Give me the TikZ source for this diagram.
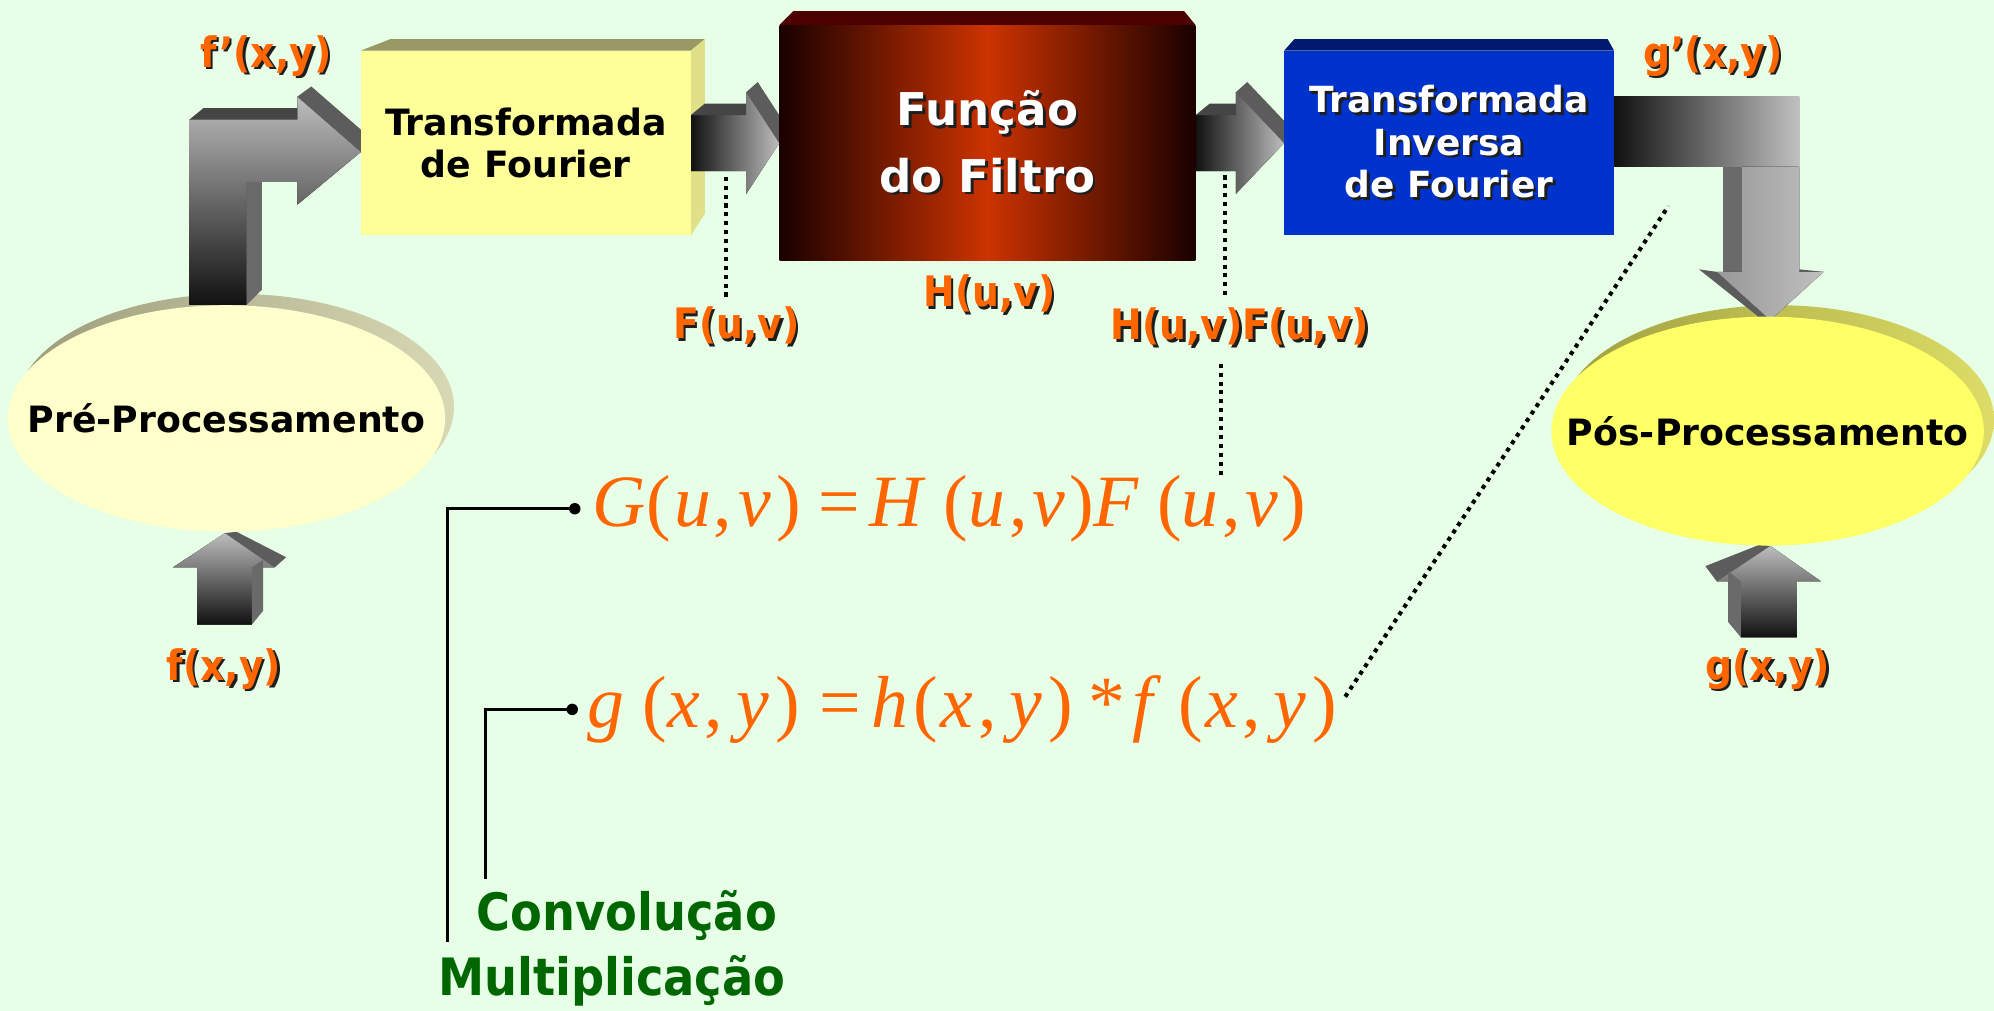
\documentclass[tikz,border=0pt]{standalone}
\usepackage{fontspec}
\setmainfont{DejaVu Sans}
\newfontfamily\condfont{DejaVu Sans Condensed}
\newfontfamily\eqfont{Liberation Serif}
\usepackage{xcolor}
\definecolor{cBg}{HTML}{E6FFE6}
\definecolor{cOrange}{HTML}{FF6600}
\definecolor{cGreen}{HTML}{006600}
\definecolor{cShadow}{HTML}{1E1E1E}
\definecolor{cPreFill}{HTML}{FFFFCC}
\definecolor{cPreRimL}{HTML}{9C9C7C}
\definecolor{cPreRimR}{HTML}{D8D8B4}
\definecolor{cPosFill}{HTML}{FFFF66}
\definecolor{cPosRimL}{HTML}{A0A040}
\definecolor{cPosRimR}{HTML}{DCDC66}
\definecolor{cFTFront}{HTML}{FFFF99}
\definecolor{cFTTop}{HTML}{999966}
\definecolor{cFTSide}{HTML}{E0E088}
\definecolor{cFiltEdge}{HTML}{1A0000}
\definecolor{cFiltMid}{HTML}{CC3300}
\definecolor{cFiltTop}{HTML}{4D0000}
\definecolor{cInvFront}{HTML}{0033CC}
\definecolor{cInvTop}{HTML}{001A70}
\definecolor{cArrLight}{HTML}{BDBDBD}
\definecolor{cArrDark}{HTML}{111111}
\definecolor{cArrTop}{HTML}{454545}
\definecolor{cArrFace}{HTML}{5C5C5C}
\definecolor{cArrSide}{HTML}{6A6A6A}
\usepackage{tikz}
\usetikzlibrary{positioning,calc,shapes.geometric}
\pgfdeclarelayer{bg}
\pgfdeclarelayer{arw}
\pgfsetlayers{bg,arw,main}
\newcommand{\shtxt}[2]{\leavevmode\rlap{\hspace{2pt}\raisebox{-2pt}{\textcolor{#1}{#2}}}#2}
\newcommand{\ei}[1]{\textit{#1}}
% horizontal block arrow: start, tip, head length
\newcommand{\blockarrowH}[3]{%
  \fill[left color=cArrDark,right color=cArrLight]
    ($(#1)+(0,-22)$) -- ($(#2)+(-#3,-22)$) -- ($(#2)+(-#3,-40)$) -- (#2)
    -- ($(#2)+(-#3,40)$) -- ($(#2)+(-#3,22)$) -- ($(#1)+(0,22)$) -- cycle;
  \fill[face-top] ($(#1)+(0,-22)$) -- ++(11,-9) -- ($(#2)+(-#3,-31)$)
    -- ($(#2)+(-#3,-22)$) -- cycle;
  \fill[face-head] ($(#2)+(-#3,-40)$) -- ++(9,-8) -- ($(#2)+(9,-8)$) -- (#2) -- cycle;
}
\tikzset{
  box-3d/.style={inner sep=0pt,align=center,font=\bfseries\fontsize{28.5}{33}\selectfont},
  box-ft/.style={box-3d,fill=cFTFront,minimum width=259pt,minimum height=145pt},
  box-filt/.style={box-3d,left color=cFiltEdge,right color=cFiltEdge,middle color=cFiltMid,
    minimum width=327pt,minimum height=185pt,text=white,
    font=\bfseries\fontsize{35.5}{52}\selectfont},
  box-inv/.style={box-3d,fill=cInvFront,minimum width=259pt,minimum height=145pt,
    text=white,font=\bfseries\fontsize{28.3}{33.5}\selectfont},
  ell-proc/.style={ellipse,inner sep=0pt,minimum width=344pt,minimum height=178pt,
    font=\bfseries\fontsize{28.5}{32}\selectfont},
  ell-rim/.style={ellipse,inner sep=0pt,minimum width=344pt,minimum height=178pt},
  lbl-sig/.style={inner sep=0pt,text=cOrange,font=\condfont\bfseries\fontsize{33}{36}\selectfont},
  lbl-op/.style={inner sep=0pt,text=cGreen,font=\condfont\bfseries\fontsize{40.5}{44}\selectfont},
  eq-text/.style={inner sep=0pt,text=cOrange,font=\eqfont\fontsize{58}{62}\selectfont,
    anchor=base west},
  face-top/.style={fill=cArrTop},
  face-head/.style={fill=cArrFace},
  face-side/.style={fill=cArrSide},
  dot-line/.style={line width=3.2pt,dash pattern=on 3.2pt off 3.8pt,draw=black},
  bracket/.style={line width=2.6pt,draw=black},
}

\begin{document}
\begin{tikzpicture}[x=1pt,y=-1pt]
  \begin{pgfonlayer}{bg}
    \fill[cBg] (0,0) rectangle (1568,795);
  \end{pgfonlayer}
  \useasboundingbox (0,0) rectangle (1568,795);

  % blocks
  \node[box-ft] (ft) at (413.5,112.5) {Transformada\\de Fourier};
  \node[box-filt] (filt) at (776.5,112.5)
    {\shtxt{cShadow}{Função}\\\shtxt{cShadow}{do Filtro}};
  \node[box-inv] (inv) at (1139.5,112.5)
    {\shtxt{cShadow}{Transformada}\\\shtxt{cShadow}{Inversa}\\\shtxt{cShadow}{de Fourier}};
  \node[ell-proc,fill=cPreFill] (pre) at (178,329) {\makebox[0pt]{Pré-Processamento}};
  \node[ell-proc,fill=cPosFill,minimum width=340pt,minimum height=180pt] (pos) at (1390,339)
    {\makebox[0pt]{Pós-Processamento}};

  % signal labels
  \node[lbl-sig] (fplab) at (209,45) {\shtxt{cShadow}{f’(x,y)}};
  \node[lbl-sig] (flab) at (579,257) {\shtxt{cShadow}{F(u,v)}};
  \node[lbl-sig] (hlab) at (778,232) {\shtxt{cShadow}{H(u,v)}};
  \node[lbl-sig] (hflab) at (975,258) {\shtxt{cShadow}{H(u,v)F(u,v)}};
  \node[lbl-sig] (gplab) at (1347,45) {\shtxt{cShadow}{g’(x,y)}};
  \node[lbl-sig] (fxy) at (176,527) {\shtxt{cShadow}{f(x,y)}};
  \node[lbl-sig] (gxy) at (1390,527) {\shtxt{cShadow}{g(x,y)}};

  % equations
  \node[eq-text] (eqG) at (466,414)
    {\ei{G}(\hspace{3pt}\ei{u}\hspace{2pt},\hspace{5pt}\ei{v}\hspace{4pt})\hspace{14pt}=\hspace{7pt}\ei{H}\hspace{14pt}(\ei{u}\hspace{3pt},\hspace{4pt}\ei{v}\hspace{3pt})\ei{F}\hspace{14pt}(\ei{u}\hspace{3pt},\hspace{4pt}\ei{v}\hspace{2pt})};
  \node[eq-text] (eqg) at (462,572)
    {\ei{g}\hspace{14pt}(\ei{x}\hspace{4pt},\hspace{10pt}\ei{y}\hspace{5pt})\hspace{16pt}=\hspace{8pt}\ei{h}\hspace{4pt}(\hspace{2pt}\ei{x}\hspace{4pt},\hspace{10pt}\ei{y}\hspace{5pt})\hspace{12pt}*\hspace{5pt}\ei{f}\hspace{14pt}(\hspace{2pt}\ei{x}\hspace{3pt},\hspace{10pt}\ei{y}\hspace{5pt})};
  \node[lbl-op] (conv) at (493,720) {Convolução};
  \node[lbl-op] (mult) at (481,771) {Multiplicação};

  % 3d faces and rims
  \begin{pgfonlayer}{bg}
    \node[ell-rim,left color=cPreRimL,right color=cPreRimR] at ($(pre)+(7,-9)$) {};
    \node[ell-rim,left color=cPosRimL,right color=cPosRimR,minimum width=340pt,
      minimum height=180pt] at ($(pos)+(8,-9)$) {};
    \fill[cFTTop] (ft.north west) -- ++(23,-9) -- ($(ft.north east)+(11,-9)$)
      -- (ft.north east) -- cycle;
    \fill[cFTSide] (ft.north east) -- ++(11,-9) -- ($(ft.south east)+(11,-17)$)
      -- (ft.south east) -- cycle;
    \fill[cFiltTop] (filt.north west) -- ++(11,-11) -- ($(filt.north east)+(-9,-11)$)
      -- (filt.north east) -- cycle;
    \fill[cInvTop] (inv.north west) -- ++(8,-9) -- ($(inv.north east)+(-5,-9)$)
      -- (inv.north east) -- cycle;
  \end{pgfonlayer}

  % block arrows
  \begin{pgfonlayer}{arw}
    \coordinate (aS) at ($(pre.north)+(-29,0)$);
    \coordinate (aT) at ($(ft.west)+(0,7)$);
    \coordinate (aK) at (aS |- aT);
    \fill[top color=cArrLight,bottom color=cArrDark]
      (aS) -- ($(aK)+(0,-25.5)$) -- ($(aT)+(-50,-25.5)$) -- ($(aT)+(-50,-43.5)$)
      -- (aT) -- ($(aT)+(-50,41.5)$) -- ($(aT)+(-50,23.5)$) -- ($(aK)+(45,23.5)$)
      -- ($(aS)+(45,0)$) -- cycle;
    \fill[face-top] ($(aK)+(0,-25.5)$) -- ++(11,-9) -- ($(aT)+(-50,-34.5)$)
      -- ($(aT)+(-50,-25.5)$) -- cycle;
    \fill[face-head] ($(aT)+(-50,-43.5)$) -- ++(11,-8) -- ($(aT)+(11,-8)$) -- (aT) -- cycle;
    \fill[face-side] ($(aK)+(45,23.5)$) -- ++(12,0) -- ($(aS)+(57,-12)$)
      -- ($(aS)+(45,0)$) -- cycle;

    \blockarrowH{ft.east}{filt.west}{26}
    \blockarrowH{filt.east}{inv.west}{38}

    \coordinate (dS) at ($(inv.east)+(0,-9)$);
    \coordinate (dT) at ($(pos.north)+(2,3)$);
    \coordinate (dK) at (dS -| dT);
    \fill[left color=cArrDark,right color=cArrLight!95!white]
      ($(dS)+(0,-27.5)$) -- ($(dK)+(23,-27.5)$) -- ($(dK)+(23,27.5)$)
      -- ($(dS)+(0,27.5)$) -- cycle;
    \fill[face-side] ($(dK)+(-37,27.5)$) -- ($(dK)+(-22,27.5)$) -- ($(dT)+(-22,-38)$)
      -- ($(dT)+(-37,-38)$) -- cycle;
    \fill[left color=cArrLight!80!black,right color=cArrLight!95!white]
      ($(dK)+(-22,27.5)$) -- ($(dK)+(23,27.5)$) -- ($(dT)+(23,-38)$) -- ($(dT)+(42,-38)$)
      -- (dT) -- ($(dT)+(-42,-38)$) -- ($(dT)+(-22,-38)$) -- cycle;
    \fill[face-head] ($(dT)+(-56,-40)$) -- ($(dT)+(-42,-38)$) -- (dT)
      -- ($(dT)+(-7,-1)$) -- cycle;
    \fill[face-head] ($(dT)+(23,-40)$) -- ($(dT)+(42,-38)$) -- ($(dT)+(23,-38)$) -- cycle;

    \coordinate (eT) at ($(pre.south)+(-1,1)$);
    \fill[top color=cArrLight,bottom color=cArrDark]
      (eT) -- ($(eT)+(39,27)$) -- ($(eT)+(21,27)$) -- ($(eT)+(21,72)$)
      -- ($(eT)+(-22,72)$) -- ($(eT)+(-22,27)$) -- ($(eT)+(-41,27)$) -- cycle;
    \fill[face-head] (eT) -- ($(eT)+(9,-1)$) -- ($(eT)+(48,19)$) -- ($(eT)+(39,27)$) -- cycle;
    \fill[face-side] ($(eT)+(21,27)$) -- ($(eT)+(30,21)$) -- ($(eT)+(30,61)$)
      -- ($(eT)+(21,72)$) -- cycle;

    \coordinate (fT) at ($(pos.south)+(2,0)$);
    \fill[top color=cArrLight,bottom color=cArrDark]
      (fT) -- ($(fT)+(40,28)$) -- ($(fT)+(21,28)$) -- ($(fT)+(21,72)$)
      -- ($(fT)+(-23,72)$) -- ($(fT)+(-23,28)$) -- ($(fT)+(-42,28)$) -- cycle;
    \fill[face-head] (fT) -- ($(fT)+(-8,-1)$) -- ($(fT)+(-51,16)$) -- ($(fT)+(-42,28)$) -- cycle;
    \fill[face-side] ($(fT)+(-23,28)$) -- ($(fT)+(-33,20)$) -- ($(fT)+(-33,60)$)
      -- ($(fT)+(-23,72)$) -- cycle;
  \end{pgfonlayer}

  % dotted leaders
  \coordinate (bTap) at (571,139);
  \coordinate (cTap) at (963,138);
  \coordinate (hfTap) at (960,286);
  \coordinate (invTap) at (1312,162);
  \draw[dot-line] (bTap) -- ($(bTap |- flab.north)+(0,-6)$);
  \draw[dot-line] (cTap) -- ($(cTap |- hflab.north)+(0,-6)$);
  \draw[dot-line] (hfTap) -- (hfTap |- eqG.north);
  \draw[dot-line] ($(eqg.east)+(6,-10)$) -- (invTap);

  % brackets
  \coordinate (mDot) at ($(eqG.west)+(-14,0)$);
  \coordinate (cDot) at ($(eqg.west)+(-12,0)$);
  \coordinate (mEnd) at (352,741);
  \coordinate (cEnd) at (382,691);
  \draw[bracket] (mDot) -| (mEnd);
  \draw[bracket] (cDot) -| (cEnd);
  \fill (mDot) circle[radius=4.5pt];
  \fill (cDot) circle[radius=4.5pt];
\end{tikzpicture}
\end{document}
